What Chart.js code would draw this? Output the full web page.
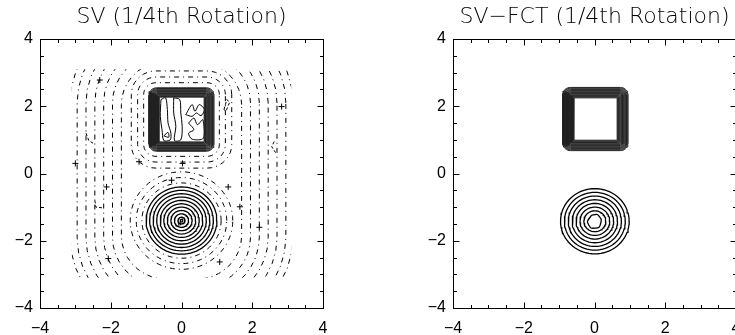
<!DOCTYPE html>
<html>
<head>
<meta charset="utf-8">
<script src="https://cdn.jsdelivr.net/npm/chart.js@4.4.1/dist/chart.umd.min.js"></script>
<style>
  html, body { margin: 0; padding: 0; background: #fff; overflow: hidden; }
  body { width: 735px; height: 335px; position: relative; }
  canvas { position: absolute; top: 0; }
  #svChart { left: 0; }
  #fctChart { left: 370px; }
</style>
</head>
<body>
<canvas id="svChart" width="370" height="335"></canvas>
<canvas id="fctChart" width="400" height="335"></canvas>
<script>
// axis setup shared by both panels
const axisRange = [-4, 4];
const tickValues = [-4, -2, 0, 2, 4];
const noiseDomain = [-3.1, 3.1];

// ---- SV panel ----
const svTitle = 'SV (1/4th Rotation)';
const svConeCenter = [0, -1.4];
const svConeRadii = [1.0, 0.9, 0.8, 0.7, 0.6, 0.5, 0.4, 0.3, 0.2, 0.1, 0.04];
const svSquareEdge = [-0.92, 0.92, 0.66, 2.55]; // x0, x1, y0, y1
const svBandDepth = 0.28;
const svBandLevels = 14;
const svSquareHalos = [0.15, 0.32, 0.5];
const svConeHalos = [1.12, 1.28, 1.45];
// [half width, half height, corner radius] of the rings around both shapes, centred at y = 0.1
const svOuterHalos = [[1.7, 3.25, 1.3], [1.95, 3.5, 1.5], [2.2, 3.75, 1.75], [2.45, 4.0, 2.0], [2.7, 4.25, 2.25], [2.95, 4.5, 2.5], [3.15, 4.7, 2.7]];
const svOuterMid = 0.1;
const svInnerLoops = [
  [[-0.58, 2.2], [-0.45, 2.25], [-0.4, 1.9], [-0.38, 1.5], [-0.3, 1.2], [-0.32, 1.0], [-0.5, 0.98], [-0.55, 1.3], [-0.6, 1.7], [-0.58, 2.2]],
  [[-0.5, 1.12], [-0.38, 1.22], [-0.36, 1.08], [-0.5, 1.12]],
  [[-0.22, 2.25], [-0.05, 2.2], [-0.02, 1.8], [0.02, 1.4], [-0.02, 1.0], [-0.2, 0.98], [-0.16, 1.4], [-0.22, 1.8], [-0.22, 2.25]],
  [[0.12, 1.75], [0.3, 2.05], [0.38, 1.85], [0.5, 2.05], [0.65, 1.9], [0.55, 1.72], [0.42, 1.8], [0.3, 1.7], [0.12, 1.75]],
  [[0.2, 1.5], [0.35, 1.65], [0.45, 1.45], [0.6, 1.6], [0.62, 1.05], [0.3, 1.02], [0.2, 1.2], [0.35, 1.3], [0.2, 1.5]]
];
const svStrayLoops = [
  [[1.2, 1.9], [1.28, 2.2], [1.36, 2.12], [1.26, 1.86], [1.2, 1.9]],
  [[-2.7, 1.2], [-2.62, 0.98], [-2.5, 0.9]],
  [[2.62, 0.95], [2.55, 0.8], [2.66, 0.62]],
  [[-2.45, -0.8], [-2.42, -1.0], [-2.25, -1.02]]
];
// small cross-shaped noise islands
const svNoiseX = [-2.31, -0.28, 1.32, 1.65, 1.08, -2.07, -2.12, -3.0, 2.83, 0.03, 2.2, -1.2];
const svNoiseY = [2.78, -0.2, -0.4, -0.99, -2.63, -2.53, -0.4, 0.3, 1.99, 0.3, -1.6, 0.35];

// ---- SV-FCT panel ----
const fctTitle = 'SV\u2212FCT (1/4th Rotation)';
const fctConeCenter = [0.01, -1.42];
const fctConeRadii = [0.97, 0.86, 0.75, 0.64, 0.53, 0.42, 0.31];
const fctCoreLoop = [[-0.08, -1.24], [0.08, -1.22], [0.19, -1.37], [0.13, -1.6], [-0.1, -1.62], [-0.2, -1.43], [-0.08, -1.24]];
const fctSquareEdge = [-0.9, 0.95, 0.68, 2.56];
const fctBandDepth = 0.31;
const fctBandLevels = 15;

const dashStyle = [5, 4, 1, 4];

function roundedRing(x0, x1, y0, y1, r) {
  const pts = [];
  const corners = [[x1 - r, y1 - r, 0], [x0 + r, y1 - r, 90], [x0 + r, y0 + r, 180], [x1 - r, y0 + r, 270]];
  corners.forEach(([cx, cy, a0]) => {
    for (let a = a0; a <= a0 + 90; a += 10) {
      const t = a * Math.PI / 180;
      pts.push({x: cx + r * Math.cos(t), y: cy + r * Math.sin(t)});
    }
  });
  pts.push(pts[0]);
  return pts;
}

function circleRing(c, r) {
  const pts = [];
  for (let a = 0; a <= 360; a += 5) {
    const t = a * Math.PI / 180;
    pts.push({x: c[0] + r * Math.cos(t), y: c[1] + r * Math.sin(t)});
  }
  return pts;
}

function toPoints(arr) {
  return arr.map(([x, y]) => ({x, y}));
}

function line(points, opts) {
  return Object.assign({
    data: points, showLine: true, pointRadius: 0, borderColor: '#000',
    borderWidth: 1, fill: false, tension: 0
  }, opts || {});
}

function bandLines(edge, depth, levels, corner) {
  const out = [];
  for (let i = 0; i < levels; i++) {
    const d = depth * i / (levels - 1);
    const r = Math.max(0.02, corner - d);
    out.push(line(roundedRing(edge[0] + d, edge[1] - d, edge[2] + d, edge[3] - d, r), {borderColor: '#222'}));
  }
  return out;
}

function svDatasets() {
  const ds = [];
  svOuterHalos.forEach(([w, h, r]) => {
    ds.push(line(roundedRing(-w, w, svOuterMid - h, svOuterMid + h, r), {borderDash: dashStyle}));
  });
  svSquareHalos.forEach(o => {
    const e = svSquareEdge;
    ds.push(line(roundedRing(e[0] - o, e[1] + o, e[2] - o, e[3] + o, 0.2 + o), {borderDash: dashStyle}));
  });
  svConeHalos.forEach(r => ds.push(line(circleRing(svConeCenter, r), {borderDash: dashStyle})));
  svStrayLoops.forEach(l => ds.push(line(toPoints(l), {borderDash: [3, 2]})));
  ds.push({
    data: svNoiseX.map((x, i) => ({x, y: svNoiseY[i]})),
    showLine: false, pointStyle: 'cross', pointRadius: 3, borderColor: '#000', borderWidth: 1
  });
  svConeRadii.forEach(r => ds.push(line(circleRing(svConeCenter, r), {borderWidth: 1.3})));
  ds.push(...bandLines(svSquareEdge, svBandDepth, svBandLevels, 0.22));
  svInnerLoops.forEach(l => ds.push(line(toPoints(l), {tension: 0.3})));
  return ds;
}

function fctDatasets() {
  const ds = [];
  fctConeRadii.forEach(r => ds.push(line(circleRing(fctConeCenter, r), {borderWidth: 1.3})));
  ds.push(line(toPoints(fctCoreLoop), {borderWidth: 1.3, tension: 0.2}));
  ds.push(...bandLines(fctSquareEdge, fctBandDepth, fctBandLevels, 0.22));
  return ds;
}

// clip the noisy contours to the computational domain
const domainClip = {
  id: 'domainClip',
  beforeDatasetsDraw(chart) {
    const {ctx, scales: {x, y}} = chart;
    const l = x.getPixelForValue(noiseDomain[0]), r = x.getPixelForValue(noiseDomain[1]);
    const t = y.getPixelForValue(noiseDomain[1]), b = y.getPixelForValue(noiseDomain[0]);
    ctx.save();
    ctx.beginPath();
    ctx.rect(l, t, r - l, b - t);
    ctx.clip();
  },
  afterDatasetsDraw(chart) {
    chart.ctx.restore();
  }
};

// box and inward ticks, IDL style
const frame = {
  id: 'frame',
  afterDraw(chart) {
    const {ctx, chartArea: a, scales: {x, y}} = chart;
    ctx.save();
    ctx.strokeStyle = '#000';
    ctx.lineWidth = 1;
    const L = Math.round(a.left) + 0.5, R = Math.round(a.right) + 0.5;
    const T = Math.round(a.top) + 0.5, B = Math.round(a.bottom) + 0.5;
    ctx.strokeRect(L, T, R - L, B - T);
    ctx.beginPath();
    x.ticks.forEach(t => {
      const px = Math.round(x.getPixelForValue(t.value)) + 0.5;
      const len = tickValues.includes(t.value) ? 6 : 3.5;
      ctx.moveTo(px, B); ctx.lineTo(px, B - len);
      ctx.moveTo(px, T); ctx.lineTo(px, T + len);
    });
    y.ticks.forEach(t => {
      const py = Math.round(y.getPixelForValue(t.value)) + 0.5;
      const len = tickValues.includes(t.value) ? 6 : 3.5;
      ctx.moveTo(L, py); ctx.lineTo(L + len, py);
      ctx.moveTo(R, py); ctx.lineTo(R - len, py);
    });
    ctx.stroke();
    ctx.restore();
  }
};

function tickLabel(v) {
  if (!tickValues.includes(v)) return '';
  return v < 0 ? '\u2212' + Math.abs(v) : String(v);
}

function makeChart(id, title, datasets, yWidth, padRight) {
  const tickFont = {family: 'Liberation Sans', size: 16};
  new Chart(document.getElementById(id), {
    type: 'scatter',
    data: {datasets: datasets},
    options: {
      responsive: false,
      animation: false,
      devicePixelRatio: 1,
      layout: {padding: {left: 0, right: padRight, top: 0, bottom: 0}},
      plugins: {
        legend: {display: false},
        tooltip: {enabled: false},
        title: {
          display: true, text: title, fullSize: false, color: '#000',
          font: {family: 'DejaVu Sans', size: 22, weight: 200, lineHeight: 1.2},
          padding: {top: 4, bottom: 8.6}
        }
      },
      scales: {
        x: {
          type: 'linear', min: axisRange[0], max: axisRange[1],
          grid: {display: false, drawTicks: false},
          border: {display: false},
          ticks: {stepSize: 0.5, autoSkip: false, maxRotation: 0, padding: 11, color: '#000', font: tickFont, callback: tickLabel},
          afterFit(s) { s.height = 27; }
        },
        y: {
          type: 'linear', min: axisRange[0], max: axisRange[1],
          grid: {display: false, drawTicks: false},
          border: {display: false},
          ticks: {stepSize: 0.5, autoSkip: false, padding: 7, color: '#000', font: tickFont, callback: tickLabel},
          afterFit(s) { s.width = yWidth; }
        }
      }
    },
    plugins: [domainClip, frame]
  });
}

makeChart('svChart', svTitle, svDatasets(), 40, 47);
makeChart('fctChart', fctTitle, fctDatasets(), 83, 34);
</script>
</body>
</html>
